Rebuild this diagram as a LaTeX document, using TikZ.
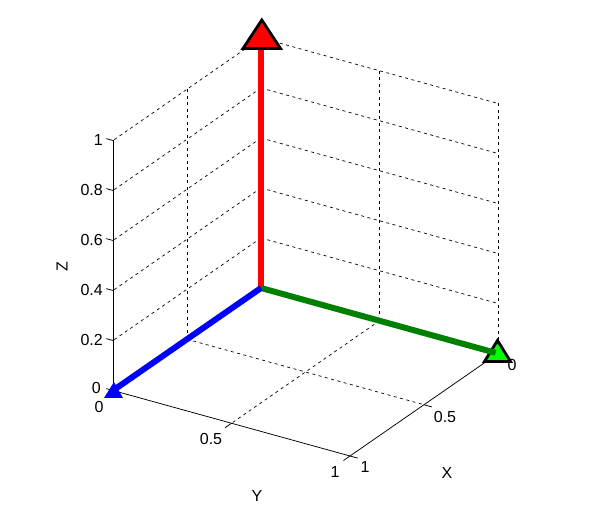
\documentclass[tikz,border=0pt]{standalone}
\usepackage{fontspec}
\setmainfont{Liberation Sans}
\begin{document}
\begin{tikzpicture}[x=1pt,y=1pt,
  gridline/.style={black, line width=0.7pt, dash pattern=on 3pt off 3.5pt},
  axisline/.style={black, line width=0.75pt},
  lbl/.style={font=\fontsize{16}{19}\selectfont, inner sep=0pt},
  vec/.style={line width=6pt, line cap=butt},
  marker/.style={draw=black, line width=2.8pt, line join=miter}]
\path[use as bounding box] (0,0) rectangle (590,513);
\begin{scope}[shift={(261,225)}, x={(-148pt,-102.5pt)}, y={(237pt,-65.5pt)}, z={(0pt,250pt)}]
  \coordinate (O) at (0,0,0);
  \coordinate (Xa) at (1,0,0);
  \coordinate (Ya) at (0,1,0);
  \coordinate (Za) at (0,0,0.95);
  \coordinate (F) at (1,1,0);
  \coordinate (XZ) at (1,0,1);
  % grid on walls
  \foreach \zz in {0.2,0.4,0.6,0.8,1} {
    \draw[gridline] (0,0,\zz) -- (0,1,\zz);
    \draw[gridline] (0,0,\zz) -- (1,0,\zz);
  }
  \draw[gridline] (0,0.5,0) -- (0,0.5,1);
  \draw[gridline] (0,1,0) -- (0,1,1);
  \draw[gridline] (0.5,0,0) -- (0.5,0,1);
  % floor grid
  \draw[gridline] (0.5,0,0) -- (0.5,1,0);
  \draw[gridline] (0,0.5,0) -- (1,0.5,0);
  % axes
  \draw[axisline] (Xa) -- (XZ);
  \draw[axisline] (Xa) -- (F);
  \draw[axisline] (Ya) -- (F);
  \foreach \zz in {0,0.2,0.4,0.6,0.8,1}
    \draw[axisline] (1,0,\zz) -- (1,-0.0285,\zz);
  \foreach \tt in {0,0.5,1} {
    \draw[axisline] (1,\tt,0) -- (1.044,\tt,0);
    \draw[axisline] (\tt,1,0) -- (\tt,1.033,0);
  }
  \coordinate (Ge) at (0,0.99,0);
\end{scope}
% markers and vectors
\draw[vec, red] (O) -- (Za);
\draw[marker, fill=red] (261.8,493) -- (280.5,464.5) -- (243,464.5) -- cycle;
\draw[marker, fill=green] (497.5,172.5) -- (510.5,151.5) -- (484.5,151.5) -- cycle;
\draw[vec, green!50!black] (O) -- (Ge);
\draw[vec, blue] (O) -- (Xa);
\fill[blue] (114,131) -- (123,115) -- (104,115) -- cycle;
% tick labels Z
\node[lbl, anchor=east] at (103,373) {1};
\node[lbl, anchor=east] at (103,323) {0.8};
\node[lbl, anchor=east] at (103,273) {0.6};
\node[lbl, anchor=east] at (103,223) {0.4};
\node[lbl, anchor=east] at (103,173) {0.2};
\node[lbl, anchor=east] at (101,125) {0};
% tick labels Y
\node[lbl] at (99,106) {0};
\node[lbl] at (211,74) {0.5};
\node[lbl] at (335,41) {1};
% tick labels X
\node[lbl] at (512,148) {0};
\node[lbl] at (445,96) {0.5};
\node[lbl] at (365,46) {1};
% axis labels
\node[lbl, rotate=90] at (62,246) {Z};
\node[lbl] at (257,17) {Y};
\node[lbl] at (447,40) {X};
\end{tikzpicture}
\end{document}
